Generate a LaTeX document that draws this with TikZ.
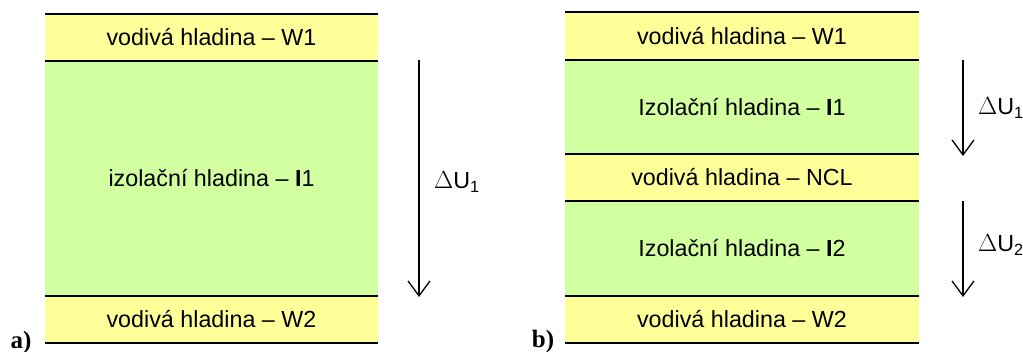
\documentclass[tikz,border=0pt]{standalone}
\usepackage{fontspec}
\setmainfont{Liberation Sans}
\newfontfamily\serifbold{Liberation Serif}
\usetikzlibrary{arrows.meta}
\definecolor{condY}{HTML}{FFFF99}
\definecolor{isoG}{HTML}{D2FFA0}
\tikzset{
  layer/.style={inner sep=0pt, outer sep=0pt, font=\fontsize{23.3}{26}\selectfont},
  condlayer/.style={layer, fill=condY},
  isolayer/.style={layer, fill=isoG},
  sep/.style={line width=1.8pt, black},
  volt/.style={line width=1.3pt, -{Straight Barb[length=15pt,width=22pt,line width=1.3pt]}},
  vlabel/.style={font=\fontsize{23.3}{26}\selectfont, inner sep=0pt},
  panel/.style={font=\serifbold\bfseries\fontsize{25}{27}\selectfont, inner sep=0pt}
}
\begin{document}
\begin{tikzpicture}[x=1pt,y=-1pt]
\useasboundingbox (0,0) rectangle (1023,352);
% panel a
\node[condlayer, minimum width=333pt, minimum height=47pt] (aw1) at (211.5,37.5) {vodivá hladina – W1};
\node[isolayer, minimum width=333pt, minimum height=235pt] (ai1) at (211.5,178.5) {izolační hladina – \textbf{I}1};
\node[condlayer, minimum width=333pt, minimum height=47pt] (aw2) at (211.5,319.5) {vodivá hladina – W2};
\draw[sep] (aw1.north west) -- (aw1.north east);
\draw[sep] (ai1.north west) -- (ai1.north east);
\draw[sep] (aw2.north west) -- (aw2.north east);
\draw[sep] (aw2.south west) -- (aw2.south east);
\coordinate (aa1) at (419,60);
\coordinate (aa2) at (419,297);
\draw[volt] (aa1) -- (aa2);
\node[vlabel, anchor=west] (aU1) at (434,182) {$\Delta$U\textsubscript{1}};
\node[panel] (alab) at (21,342) {a)};
% panel b
\node[condlayer, minimum width=354pt, minimum height=48pt] (bw1) at (742,36) {vodivá hladina – W1};
\node[isolayer, minimum width=354pt, minimum height=94pt] (bi1) at (742,107) {Izolační hladina – \textbf{I}1};
\node[condlayer, minimum width=354pt, minimum height=47pt] (bncl) at (742,177.5) {vodivá hladina – NCL};
\node[isolayer, minimum width=354pt, minimum height=95pt] (bi2) at (742,248.5) {Izolační hladina – \textbf{I}2};
\node[condlayer, minimum width=354pt, minimum height=47pt] (bw2) at (742,319.5) {vodivá hladina – W2};
\draw[sep] (bw1.north west) -- (bw1.north east);
\draw[sep] (bi1.north west) -- (bi1.north east);
\draw[sep] (bncl.north west) -- (bncl.north east);
\draw[sep] (bi2.north west) -- (bi2.north east);
\draw[sep] (bw2.north west) -- (bw2.north east);
\draw[sep] (bw2.south west) -- (bw2.south east);
\coordinate (ba1) at (963,60);
\coordinate (ba2) at (963,156);
\coordinate (ba3) at (963,201);
\coordinate (ba4) at (963,297);
\draw[volt] (ba1) -- (ba2);
\draw[volt] (ba3) -- (ba4);
\node[vlabel, anchor=west] (bU1) at (978,108) {$\Delta$U\textsubscript{1}};
\node[vlabel, anchor=west] (bU2) at (978,245) {$\Delta$U\textsubscript{2}};
\node[panel] (blab) at (543,341) {b)};
\end{tikzpicture}
\end{document}
